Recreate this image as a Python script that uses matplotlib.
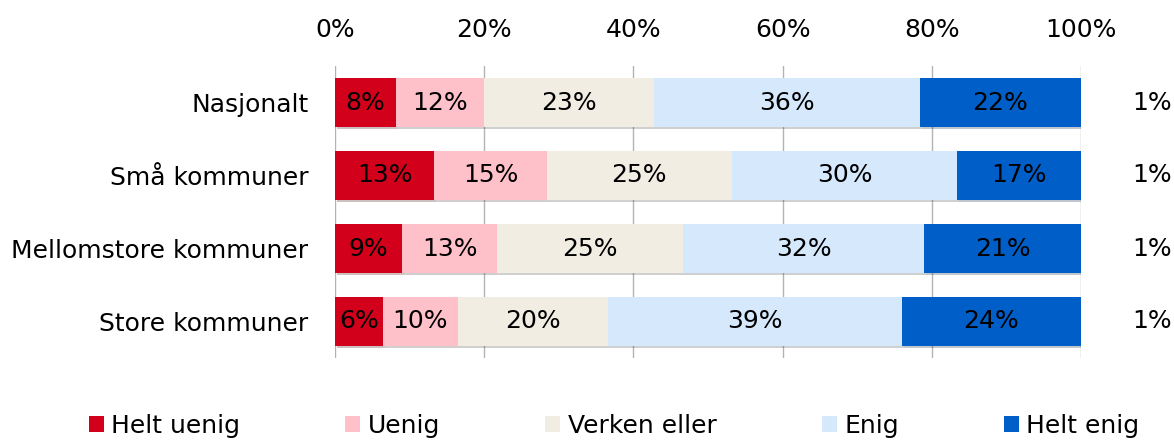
import matplotlib
matplotlib.use("Agg")
import matplotlib.pyplot as plt
import matplotlib.patheffects as pe
from matplotlib.ticker import FuncFormatter

# Data (% shares)
categories = ["Nasjonalt", "Små kommuner", "Mellomstore kommuner", "Store kommuner"]
series_names = ["Helt uenig", "Uenig", "Verken eller", "Enig", "Helt enig"]
helt_uenig = [8.2, 13.3, 9.0, 6.4]
uenig = [11.8, 15.1, 12.7, 10.1]
verken_eller = [22.8, 24.8, 24.9, 20.1]
enig = [35.6, 30.2, 32.4, 39.4]
helt_enig = [21.6, 16.6, 21.0, 24.0]
vet_ikke = [1, 1, 1, 1]
colors = ["#D2001A", "#FFC1C9", "#F1EDE3", "#D6E8FC", "#005EC8"]

plt.rcParams['font.family'] = ['DejaVu Sans']
fs = 18

fig = plt.figure(figsize=(11.74, 4.41), dpi=100)
ax = fig.add_axes([335/1174, 1 - 358/441, 746/1174, 292/441])

y = list(range(len(categories)))
left = [0.0] * len(categories)
all_bars = []
for name, vals, col in zip(series_names, [helt_uenig, uenig, verken_eller, enig, helt_enig], colors):
    bars = ax.barh(y, vals, left=left, height=0.66, color=col, label=name, zorder=3)
    all_bars.extend(bars)
    for i, v in enumerate(vals):
        ax.text(left[i] + v / 2, i, f"{round(v):.0f}%", ha="center", va="center",
                fontsize=fs, color="black", zorder=4)
    left = [l + v for l, v in zip(left, vals)]

# share not answering, shown outside the bars
for i, v in enumerate(vet_ikke):
    ax.text(112.2, i, f"{v}%", ha="right", va="center", fontsize=fs, clip_on=False)

ax.set_xlim(0, 100)
ax.set_ylim(len(categories) - 0.5, -0.5)
ax.set_yticks(y)
ax.set_yticklabels(categories, fontsize=fs)
ax.set_xticks([0, 20, 40, 60, 80, 100])
ax.xaxis.set_major_formatter(FuncFormatter(lambda v, p: f"{v:.0f}%"))
ax.xaxis.tick_top()
ax.tick_params(axis="x", labelsize=fs, pad=17)
ax.tick_params(axis="both", length=0)
ax.tick_params(axis="y", pad=19)
ax.grid(axis="x", color="#b3b3b3", linewidth=1, zorder=0)
for s in ax.spines.values():
    s.set_visible(False)

fig.legend(loc="center", bbox_to_anchor=(0.523, 0.035), ncol=5, frameon=False,
           fontsize=fs, handlelength=0.6, handleheight=0.6, handletextpad=0.3,
           columnspacing=4.2)

# light drop shadow under the bars (added after legend so handles stay flat)
shadow = [pe.SimplePatchShadow(offset=(1.5, -1.5), alpha=0.25), pe.Normal()]
for b in all_bars:
    b.set_path_effects(shadow)

fig.savefig("out.png", dpi=100)
